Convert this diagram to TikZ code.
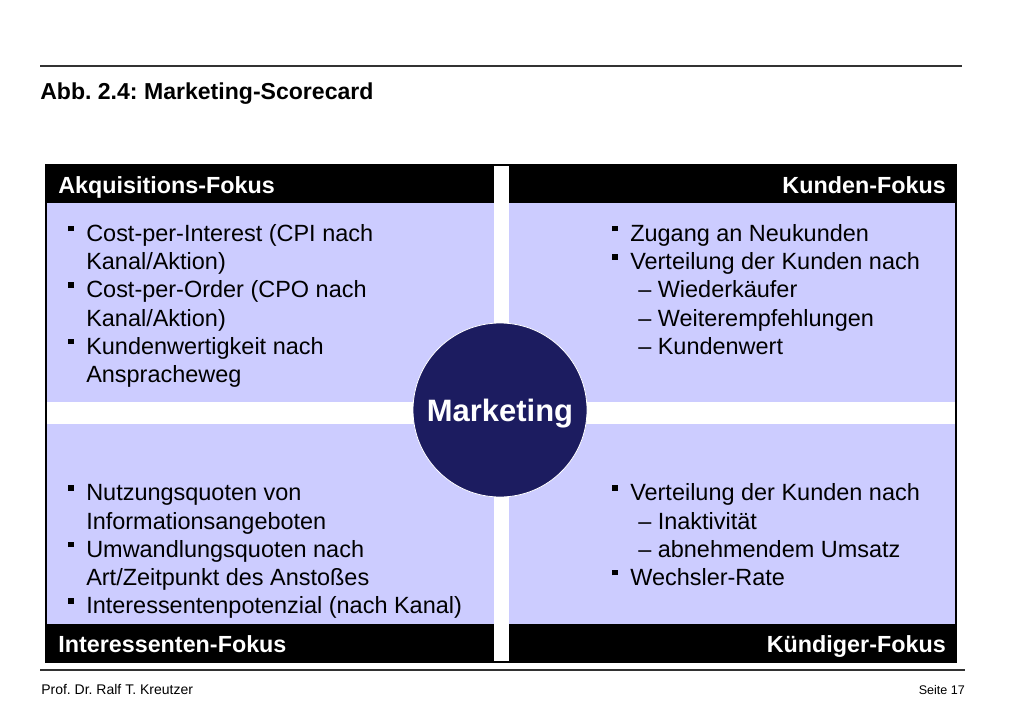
\documentclass[tikz,border=0pt]{standalone}
\usepackage{fontspec}
\setmainfont{Liberation Sans}
\frenchspacing
\definecolor{paleblue}{RGB}{204,204,255}
\definecolor{navy}{RGB}{28,28,96}
\definecolor{rulegray}{RGB}{50,50,50}
\newcommand\bsq{\makebox[13.5pt][l]{\rule[7.6pt]{4.2pt}{4.2pt}}}
\tikzset{
  bodytxt/.style={anchor=base west, inner sep=0pt, font=\fontsize{17.6pt}{21pt}\selectfont},
  headl/.style={anchor=base west, inner sep=0pt, text=white, font=\bfseries\fontsize{17.5pt}{21pt}\selectfont},
  headr/.style={anchor=base east, inner sep=0pt, text=white, font=\bfseries\fontsize{17.5pt}{21pt}\selectfont},
  hrule/.style={draw=rulegray, line width=1.5pt},
  whitestripe/.style={fill=white, draw=none},
}
\begin{document}
\begin{tikzpicture}[x=0.75pt, y=-0.75pt]
\path[use as bounding box, fill=white] (0,0) rectangle (1024,709);

% top rule and title
\coordinate (tl) at (40,66);
\coordinate (tr) at (962,66);
\draw[hrule] (tl) -- (tr);
\node[anchor=base west, inner sep=0pt, font=\bfseries\fontsize{17.3pt}{21pt}\selectfont] (title) at (40,99.5) {Abb. 2.4: Marketing-Scorecard};

% scorecard body
\fill[paleblue] (46,165) rectangle (956,662);
\fill[black] (46,165) rectangle (956,203);
\fill[black] (46,624) rectangle (956,662);
\fill[whitestripe] (494,166) rectangle (509,661);
\fill[whitestripe] (46,402) rectangle (956,424);
\draw[black, line width=0.9pt] (46,165) rectangle (956,662);

% header labels
\node[headl] (h1) at (58,193.5) {Akquisitions-Fokus};
\node[headr] (h2) at (946,193.5) {Kunden-Fokus};
\node[headl] (h3) at (58,652) {Interessenten-Fokus};
\node[headr] (h4) at (946,652) {Kündiger-Fokus};

% centre circle
\node[circle, fill=navy, draw=white, line width=0.6pt, minimum size=130.5pt, inner sep=0pt] (mkt) at (500,410) {};
\node[anchor=base, inner sep=0pt, text=white, font=\bfseries\fontsize{23.2pt}{26pt}\selectfont] (mktlabel) at (500,421) {Marketing};

% top-left
\node[bodytxt] (a1) at (68,241.5) {\bsq Cost-per-Interest (CPI nach};
\node[bodytxt] (a2) at (86,269.7) {Kanal/Aktion)};
\node[bodytxt] (a3) at (68,297.9) {\bsq Cost-per-Order (CPO nach};
\node[bodytxt] (a4) at (86,326.1) {Kanal/Aktion)};
\node[bodytxt] (a5) at (68,354.3) {\bsq Kundenwertigkeit nach};
\node[bodytxt] (a6) at (86,382.5) {Anspracheweg};

% top-right
\node[bodytxt] (b1) at (612,241.5) {\bsq Zugang an Neukunden};
\node[bodytxt] (b2) at (612,269.7) {\bsq Verteilung der Kunden nach};
\node[bodytxt] (b3) at (638,297.9) {– Wiederkäufer};
\node[bodytxt] (b4) at (638,326.1) {– Weiterempfehlungen};
\node[bodytxt] (b5) at (638,354.3) {– Kundenwert};

% bottom-left
\node[bodytxt] (c1) at (68,500.7) {\bsq Nutzungsquoten von};
\node[bodytxt] (c2) at (86,529) {Informationsangeboten};
\node[bodytxt] (c3) at (68,557.3) {\bsq Umwandlungsquoten nach};
\node[bodytxt] (c4) at (86,585.6) {Art/Zeitpunkt des Anstoßes};
\node[bodytxt] (c5) at (68,613.9) {\bsq Interessentenpotenzial (nach Kanal)};

% bottom-right
\node[bodytxt] (d1) at (612,500.7) {\bsq Verteilung der Kunden nach};
\node[bodytxt] (d2) at (638,529) {– Inaktivität};
\node[bodytxt] (d3) at (638,557.3) {– abnehmendem Umsatz};
\node[bodytxt] (d4) at (612,585.6) {\bsq Wechsler-Rate};

% footer
\coordinate (fl) at (40,670);
\coordinate (fr) at (965,670);
\draw[hrule] (fl) -- (fr);
\node[anchor=base west, inner sep=0pt, font=\fontsize{10.5pt}{12pt}\selectfont] (author) at (41,694) {Prof. Dr. Ralf T. Kreutzer};
\node[anchor=base east, inner sep=0pt, font=\fontsize{9.4pt}{11pt}\selectfont] (page) at (965,694) {Seite 17};
\end{tikzpicture}
\end{document}
